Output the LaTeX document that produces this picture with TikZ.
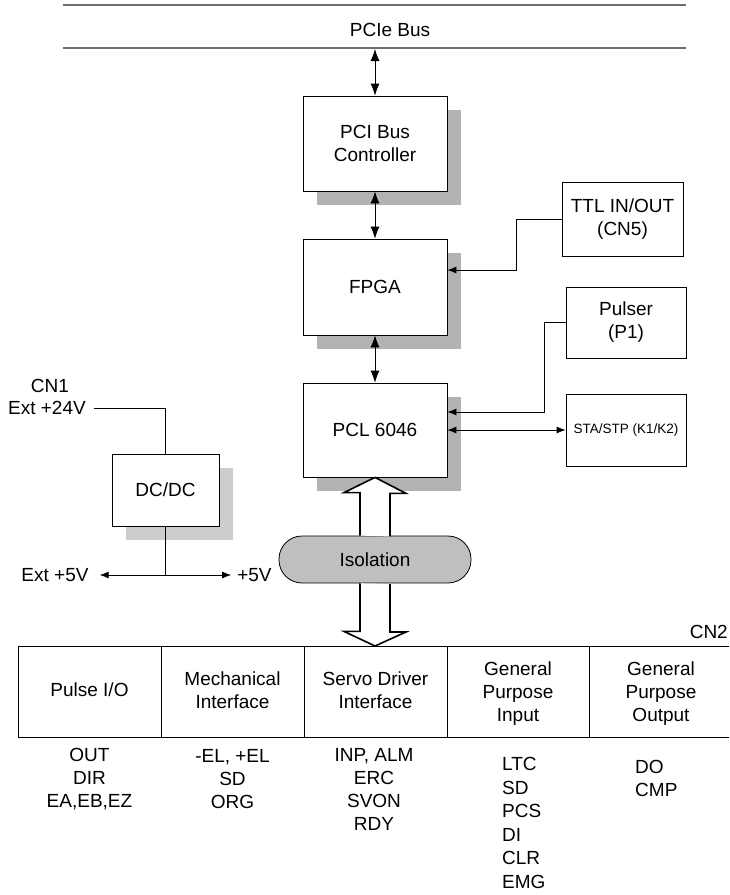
\documentclass[tikz,border=0pt]{standalone}
\usepackage{fontspec}
\setmainfont{Liberation Sans}
\usetikzlibrary{arrows.meta, calc, shadows, positioning}
\definecolor{busgray}{HTML}{6E6E6E}
\definecolor{shadowgray}{HTML}{B3B3B3}
\definecolor{lightshadow}{HTML}{CCCCCC}
\definecolor{isogray}{HTML}{BFBFBF}

\begin{document}
\begin{tikzpicture}[x=1pt, y=-1pt]
    % Setup the styles for the blocks
        \tikzset{block style/.style={draw,
                                     line width=0.8pt,
                                     fill=white,
                                     align=center,
                                     inner sep=0pt,
                                     font=\fontsize{19}{23}\selectfont},
                 shadow style/.style={drop shadow={fill=#1, opacity=1,
                                     shadow xshift=14pt, shadow yshift=-14pt}},
                 label style/.style={inner sep=0pt,
                                     align=center,
                                     font=\fontsize{19}{23}\selectfont},
                 link style/.style={line width=0.8pt,
                                    >={Latex[length=12pt, width=9pt]}},
                 side link/.style={link style,
                                   >={Latex[length=9pt, width=7pt]}},
                 hollow style/.style={line width=1.6pt,
                                      fill=white,
                                      line join=miter}}
        \useasboundingbox (0, 0) rectangle (729, 895);
        % Draw the bus
        \draw[busgray, line width=1.2pt] (63, 5) -- (686, 5);
        \draw[busgray, line width=2pt] (63, 48) -- (686, 48);
        \node[label style] at (390, 30) (bus) {PCIe Bus};
        \coordinate (pcie) at (375, 49);
        % Draw the blocks
        \node[block style, shadow style=shadowgray, minimum width=144pt, minimum height=95pt]
            at (375, 143.5) (pci) {PCI Bus\\Controller};
        \node[block style, shadow style=shadowgray, minimum width=144pt, minimum height=96pt]
            at (375, 287) (fpga) {FPGA};
        \node[block style, shadow style=shadowgray, minimum width=144pt, minimum height=94pt]
            at (375, 430) (pcl) {PCL 6046};
        \node[block style, minimum width=121pt, minimum height=74pt]
            at (622.5, 219) (ttl) {TTL IN/OUT\\(CN5)};
        \node[block style, minimum width=120pt, minimum height=71pt]
            at (626, 322.5) (pulser) {Pulser\\(P1)};
        \node[block style, minimum width=120pt, minimum height=72pt,
              font=\fontsize{13.5}{16}\selectfont]
            at (626, 430) (stastp) {STA/STP (K1/K2)};
        \node[block style, shadow style=lightshadow, minimum width=107pt, minimum height=72pt]
            at (165.5, 490) (dcdc) {DC/DC};
        \node[block style, fill=isogray, rounded corners=23pt, minimum width=192pt, minimum height=47pt]
            at (375, 559.5) (iso) {Isolation};
        % Power labels
        \node[label style] at (50, 386) (cn1) {CN1};
        \node[label style] at (47, 408) (ext24) {Ext +24V};
        \node[label style] at (55, 575) (ext5) {Ext +5V};
        \node[label style] at (254.5, 575) (plus5) {+5V};
        % Connect the blocks with arrows
        \draw[link style, <->] (pcie) -- (pci);
        \draw[link style, <->] (pci) -- (fpga);
        \draw[link style, <->] (fpga) -- (pcl);
        \draw[side link, ->] (ttl.west) -- ++(-45, 0) |- ($(fpga.east) + (0, -17)$);
        \draw[side link, ->] (pulser.west) -- ++(-21, 0) |- ($(pcl.east) + (0, -18)$);
        \draw[side link, <->] (pcl) -- (stastp);
        \draw[side link, shorten <=8pt] (ext24) -| (dcdc);
        \draw[side link] (dcdc) -- (dcdc |- ext5);
        \draw[side link, <->, shorten <=11pt, shorten >=6pt] (ext5) -- (plus5);
        % Hollow arrows through the isolation
        \coordinate (cn2top) at (375, 646);
        \draw[hollow style] ($(iso.north) + (-15, 0)$) -- ++(0, -43) -- ++(-16, 0) -- (pcl.south)
            -- ++(31, 16) -- ++(-16, 0) -- ++(0, 43);
        \draw[hollow style] ($(iso.south) + (-15, 0)$) -- ++(0, 48) -- ++(-16, 0) -- (cn2top)
            -- ++(31, -14) -- ++(-16, 0) -- ++(0, -48);
        % Draw the CN2 table
        \node[label style, anchor=east] at (728, 632) (cn2) {CN2};
        \draw[line width=0.8pt] (18, 646) -- (729, 646) (18, 737) -- (729, 737);
        \foreach \x in {18, 161, 304, 447, 589}
            \draw[line width=0.8pt] (\x, 646) -- (\x, 737);
        \node[label style] at (89.5, 690) (pulseio) {Pulse I/O};
        \node[label style] at (232.5, 690.5) (mech) {Mechanical\\Interface};
        \node[label style] at (375.5, 690.5) (servo) {Servo Driver\\Interface};
        \node[label style] at (518, 694) (gpin) {General\\Purpose\\Input};
        \node[label style] at (661, 694) (gpout) {General\\Purpose\\Output};
        % Signals of each group
        \node[label style] at (89.5, 779) (pulsesig) {OUT\\DIR\\EA,EB,EZ};
        \node[label style] at (232.5, 779) (mechsig) {-EL, +EL\\SD\\ORG};
        \node[label style] at (374, 789) (servosig) {INP, ALM\\ERC\\SVON\\RDY};
        \node[label style, anchor=west, align=left, font=\fontsize{19}{23.5}\selectfont]
            at (502, 823) (gpinsig) {LTC\\SD\\PCS\\DI\\CLR\\EMG};
        \node[label style, anchor=west, align=left]
            at (635, 778.5) (gpoutsig) {DO\\CMP};
\end{tikzpicture}
\end{document}
